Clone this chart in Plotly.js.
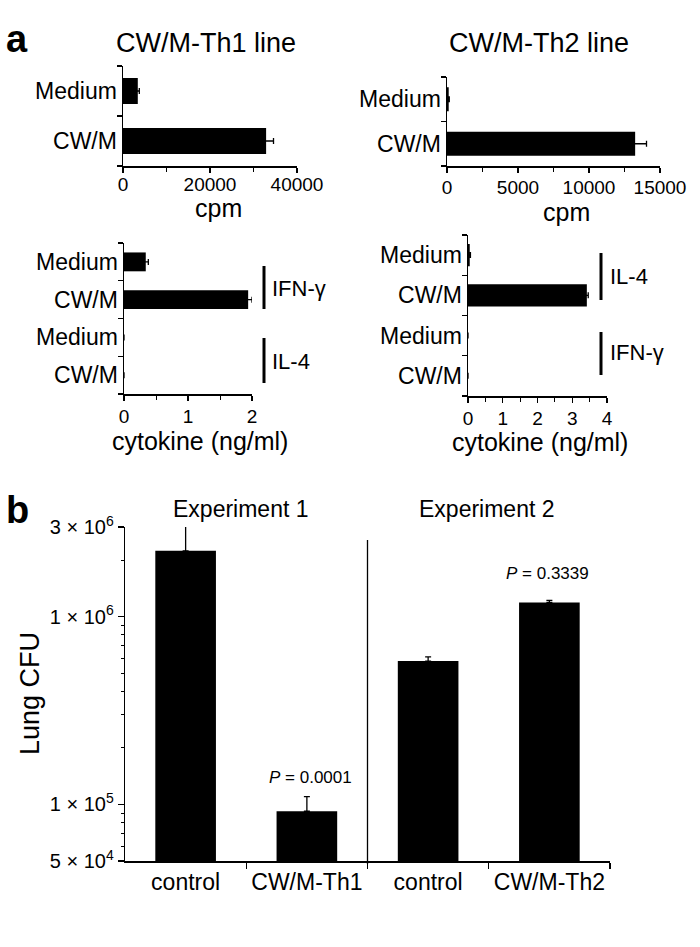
<!DOCTYPE html>
<html><head><meta charset="utf-8">
<script src="https://cdn.plot.ly/plotly-3.0.1.min.js"></script>
<style>html,body{margin:0;padding:0;background:#fff}#chart{width:700px;height:947px}</style>
</head><body><div id="chart"></div>
<script>
// ---- Panel a: proliferation (cpm) ----
const cpmCategories = ['Medium', 'CW/M'];
const th1Cpm = [3400, 32900];
const th1CpmErr = [350, 1700];
const th2Cpm = [120, 13250];
const th2CpmErr = [40, 800];
const th1CpmTicks = [0, 20000, 40000];
const th2CpmTicks = [0, 5000, 10000, 15000];

// ---- Panel a: cytokines (ng/ml) ----
const cytoCategories = ['Medium', 'CW/M', 'Medium', 'CW/M'];
const th1Cyto = [0.34, 1.94, 0, 0];
const th1CytoErr = [0.04, 0.06, 0, 0];
const th2Cyto = [0.05, 3.42, 0, 0];
const th2CytoErr = [0.02, 0.04, 0, 0];
const th1Groups = ['IFN-γ', 'IL-4'];
const th2Groups = ['IL-4', 'IFN-γ'];
const th1CytoTicks = [0, 1, 2];
const th2CytoTicks = [0, 1, 2, 3, 4];

// ---- Panel b: lung CFU ----
const cfuCategories = ['control', 'CW/M-Th1', 'control', 'CW/M-Th2'];
const cfuValues = [2.24e6, 9.2e4, 5.8e5, 1.19e6];
const cfuErr = [8.0e5, 1.8e4, 3.0e4, 3.0e4];
const cfuTickVals = [3e6, 1e6, 1e5, 5e4];
const cfuTickText = ['3 × 10<sup>6</sup>', '1 × 10<sup>6</sup>', '1 × 10<sup>5</sup>', '5 × 10<sup>4</sup>'];
const cfuMinorTicks = [2e6, 9e5, 8e5, 7e5, 6e5, 5e5, 4e5, 3e5, 2e5, 9e4, 8e4, 7e4, 6e4];
const experiments = ['Experiment 1', 'Experiment 2'];
const pValues = ['<i>P</i> = 0.0001', '<i>P</i> = 0.3339'];

const W = 700, H = 947;
const px = v => v / W;
const py = v => 1 - v / H;
const idx = a => a.map((_, i) => i);
const bounds = a => [-0.5].concat(a.map((_, i) => i + 0.5));
const FONT = 'Liberation Sans, Arial, Helvetica, sans-serif';
const BLACK = '#000';

function errH(arr) { return {type: 'data', array: arr, visible: true, color: BLACK, thickness: 1.3, width: 3}; }

const traces = [
  {type: 'bar', orientation: 'h', x: th1Cpm, y: idx(cpmCategories), xaxis: 'x', yaxis: 'y',
   width: 0.52, marker: {color: BLACK}, error_x: errH(th1CpmErr)},
  {type: 'bar', orientation: 'h', x: th2Cpm, y: idx(cpmCategories), xaxis: 'x2', yaxis: 'y2',
   width: 0.54, marker: {color: BLACK}, error_x: errH(th2CpmErr)},
  {type: 'bar', orientation: 'h', x: th1Cyto, y: idx(cytoCategories), xaxis: 'x3', yaxis: 'y3',
   width: 0.5, marker: {color: BLACK}, error_x: errH(th1CytoErr)},
  {type: 'bar', orientation: 'h', x: th2Cyto, y: idx(cytoCategories), xaxis: 'x4', yaxis: 'y4',
   width: 0.55, marker: {color: BLACK}, error_x: errH(th2CytoErr)},
  {type: 'bar', x: idx(cfuCategories), y: cfuValues, xaxis: 'x5', yaxis: 'y5',
   width: 0.5, marker: {color: BLACK},
   error_y: {type: 'data', symmetric: false, array: cfuErr, arrayminus: cfuErr.map(() => 0),
             visible: true, color: BLACK, thickness: 1.3, width: 3}}
];

function valueAxis(domain, range, tickvals, minorDtick, anchor, standoff) {
  return {domain: domain, range: range, anchor: anchor, tickmode: 'array',
    tickvals: tickvals, ticktext: tickvals.map(v => String(v)),
    ticks: 'outside', ticklen: 5, tickwidth: 1.2, tickcolor: BLACK, ticklabelstandoff: standoff || 0,
    minor: {dtick: minorDtick, tick0: 0, ticks: 'outside', ticklen: 4, tickwidth: 1, tickcolor: BLACK},
    showline: true, linecolor: BLACK, linewidth: 1.5, showgrid: false, zeroline: false,
    tickfont: {size: 19, color: BLACK}, fixedrange: true};
}
function catAxis(domain, cats, anchor, size) {
  return {domain: domain, range: [cats.length - 0.5, -0.5], anchor: anchor, tickmode: 'array',
    tickvals: idx(cats), ticktext: cats, ticks: '',
    minor: {tickvals: bounds(cats), ticks: 'outside', ticklen: 5, tickwidth: 1.2, tickcolor: BLACK},
    showline: true, linecolor: BLACK, linewidth: 1.5, showgrid: false, zeroline: false,
    tickfont: {size: size, color: BLACK}, fixedrange: true};
}

const layout = {
  width: W, height: H, margin: {l: 0, r: 0, t: 0, b: 0},
  paper_bgcolor: '#fff', plot_bgcolor: 'rgba(0,0,0,0)', showlegend: false,
  font: {family: FONT, color: BLACK},
  xaxis: valueAxis([px(123), px(297)], [0, 40000], th1CpmTicks, 10000, 'y', -4),
  yaxis: catAxis([py(166), py(66)], cpmCategories, 'x', 23),
  xaxis2: valueAxis([px(447), px(660)], [0, 15000], th2CpmTicks, 2500, 'y2', -1),
  yaxis2: catAxis([py(166), py(77)], cpmCategories, 'x2', 23),
  xaxis3: valueAxis([px(124), px(252)], [0, 2], th1CytoTicks, 0.5, 'y3', 0),
  yaxis3: catAxis([py(394), py(243)], cytoCategories, 'x3', 23),
  xaxis4: valueAxis([px(468), px(607)], [0, 4], th2CytoTicks, 0.5, 'y4', 0),
  yaxis4: catAxis([py(396), py(235)], cytoCategories, 'x4', 23),
  xaxis5: {domain: [px(125), px(610)], range: [-0.5, cfuCategories.length - 0.5], anchor: 'y5', tickmode: 'array',
    tickvals: idx(cfuCategories), ticktext: cfuCategories, ticks: '',
    minor: {tickvals: bounds(cfuCategories).slice(1), ticks: 'outside', ticklen: 6, tickwidth: 1.2, tickcolor: BLACK},
    showline: true, linecolor: BLACK, linewidth: 1.5, showgrid: false, zeroline: false,
    tickfont: {size: 23, color: BLACK}, fixedrange: true},
  yaxis5: {domain: [py(861), py(527)], type: 'log', range: [Math.log10(5e4), Math.log10(3e6)], anchor: 'x5',
    tickmode: 'array', tickvals: cfuTickVals, ticktext: cfuTickText,
    ticks: 'outside', ticklen: 6, tickwidth: 1.2, tickcolor: BLACK,
    minor: {tickvals: cfuMinorTicks, ticks: 'outside', ticklen: 3, tickwidth: 1, tickcolor: BLACK},
    showline: true, linecolor: BLACK, linewidth: 1.3, showgrid: false, zeroline: false,
    tickfont: {size: 20, color: BLACK}, fixedrange: true},
  shapes: [
    // group brackets (cytokine panels)
    {type: 'line', xref: 'paper', yref: 'paper', x0: px(264), x1: px(264), y0: py(266), y1: py(309), line: {color: BLACK, width: 3}},
    {type: 'line', xref: 'paper', yref: 'paper', x0: px(264), x1: px(264), y0: py(338), y1: py(383), line: {color: BLACK, width: 3}},
    {type: 'line', xref: 'paper', yref: 'paper', x0: px(601), x1: px(601), y0: py(253), y1: py(300), line: {color: BLACK, width: 3}},
    {type: 'line', xref: 'paper', yref: 'paper', x0: px(601), x1: px(601), y0: py(332), y1: py(375), line: {color: BLACK, width: 3}},
    // experiment divider
    {type: 'line', xref: 'x5', yref: 'paper', x0: 1.5, x1: 1.5, y0: py(540), y1: py(864), line: {color: BLACK, width: 1.3}}
  ],
  annotations: []
};

function ann(text, x, y, size, opts) {
  return Object.assign({text: text, x: px(x), y: py(y), xref: 'paper', yref: 'paper',
    xanchor: 'center', yanchor: 'middle', showarrow: false, font: {size: size, color: BLACK, family: FONT}}, opts || {});
}
layout.annotations.push(
  ann('<b>a</b>', 17, 39, 38),
  ann('CW/M-Th1 line', 206, 43, 27),
  ann('CW/M-Th2 line', 539, 43, 27),
  ann('cpm', 218, 208, 25),
  ann('cpm', 566, 212, 25),
  ann('cytokine (ng/ml)', 200, 441, 25),
  ann('cytokine (ng/ml)', 540, 442, 25),
  ann(th1Groups[0], 270, 288, 22, {xanchor: 'left'}),
  ann(th1Groups[1], 270, 362, 22, {xanchor: 'left'}),
  ann(th2Groups[0], 608, 276, 22, {xanchor: 'left'}),
  ann(th2Groups[1], 608, 352, 22, {xanchor: 'left'}),
  ann('<b>b</b>', 17, 510, 38),
  ann(experiments[0], 241, 509, 23),
  ann(experiments[1], 487, 509, 23),
  ann(pValues[0], 310, 777, 17),
  ann(pValues[1], 547, 573, 17),
  ann('Lung CFU', 30, 694, 27, {textangle: -90})
);

Plotly.newPlot('chart', traces, layout, {displayModeBar: false, staticPlot: true});
</script>
</body></html>
